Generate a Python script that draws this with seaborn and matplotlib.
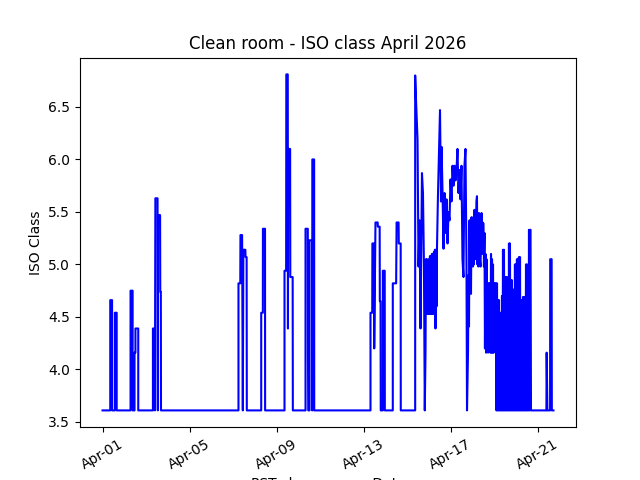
import matplotlib
matplotlib.use("Agg")
import matplotlib.pyplot as plt
import matplotlib.dates as mdates
import pandas as pd
import seaborn as sns

start = "2026-04-01 00:00"

# hours after start, and ISO class readings (3.61 = baseline)
hours = [
    0, 8.5, 8.5, 10.5, 10.5,
    13.6, 13.6, 15.6, 15.6,
    30.9, 30.9, 33.2, 33.2,
    35.3, 35.3, 36.3, 36.3, 39.4, 39.4,
    55.6, 55.6, 57.5, 57.8, 58.3, 60.7, 61.0, 61.2, 63.5, 63.7, 64.3, 64.5,
    150.0, 150.0, 152.0, 152.2, 154.0, 154.3, 154.8, 155.4, 157.6, 157.8, 159.0, 159.2,
    175.1, 175.1, 176.9, 177.0, 179.3, 179.4,
    200.8, 200.8, 202.6, 202.8, 204.4, 204.6, 204.8, 205.0, 207.0, 207.2, 209.8, 210.0,
    224.0, 224.0, 226.5, 226.7, 227.0, 228.4, 228.4, 231.2, 231.4, 231.5, 233.5, 233.6,
    295.7, 295.7, 297.6, 297.8, 299.6, 299.8, 301.2, 303.6, 303.8, 305.8, 306.0, 306.8, 307.0,
    309.3, 309.3, 311.4, 311.5,
    320.3, 320.3, 324.0, 324.5, 326.7, 326.9, 329.0, 329.1,
    345.0, 345.0, 346.0, 347.6, 348.7, 349.8, 350.9, 352.5, 353.6, 354.7, 355.6,
    356.4, 356.9, 357.5, 358.0, 358.6, 359.1, 359.7, 360.2, 360.8, 361.3, 361.9, 362.4,
    363.0, 363.5, 364.1, 364.6, 365.2, 365.7, 366.3, 366.8, 367.4, 367.9, 368.5, 369.1, 370.2,
    372.4, 373.5, 374.1, 375.2, 376.3, 377.4, 378.5, 379.6, 380.7, 381.8, 382.9, 384.0,
    385.1, 386.2, 387.3, 388.4, 389.5, 390.6, 391.7, 392.8, 393.9, 395.0, 396.1, 397.2,
    398.3, 399.4, 400.5, 401.6, 402.2,
    403.3, 403.9, 404.4, 405.0, 405.5, 406.1, 406.6, 407.2, 407.7, 408.3, 408.8, 409.3,
    409.9, 410.4, 411.5, 412.6, 413.2, 413.7, 414.3, 414.8, 415.4, 415.9, 417.1, 417.6,
    418.2, 418.7, 419.3, 420.4, 420.9, 421.5, 422.0, 422.6, 423.2, 423.7, 424.3, 424.8,
    425.4, 425.9, 426.5, 427.0, 427.6,
    428.1, 428.7, 429.2, 429.8, 430.4, 430.9, 431.4, 432.0, 432.6, 433.1, 433.7, 434.2,
    434.7, 435.3, 435.8, 436.4, 436.9, 437.5, 438.1, 438.6, 439.2, 439.7, 440.3, 440.8,
    441.4, 441.9, 442.5, 443.0, 443.6, 444.1, 444.7, 445.2, 445.8, 446.3, 446.9, 447.4,
    448.0, 448.5, 449.1, 449.6, 450.2, 450.7, 451.3, 451.8, 452.4, 452.9, 453.5, 454.0,
    454.6, 455.1, 455.7, 456.2, 456.8, 457.3, 457.9, 458.4, 459.0, 459.5, 460.1, 460.7,
    461.2, 461.8, 462.3, 462.9, 463.4, 464.0, 464.5, 465.1, 465.6, 466.2, 466.7, 467.3,
    467.8, 468.4, 468.9, 469.5, 470.1, 470.6, 471.2, 471.7, 472.3, 472.8,
    489.8, 490.1, 490.9, 493.9, 494.0, 495.6, 495.8, 497.6,
]
iso = [
    3.61, 3.61, 4.66, 4.66, 3.61,
    3.61, 4.54, 4.54, 3.61,
    3.61, 4.75, 4.75, 3.61,
    3.61, 4.16, 4.16, 4.39, 4.39, 3.61,
    3.61, 4.39, 4.39, 3.61, 5.63, 5.63, 3.61, 5.47, 5.47, 4.74, 4.74, 3.61,
    3.61, 4.82, 4.82, 5.28, 5.28, 4.55, 3.61, 5.14, 5.14, 5.07, 5.07, 3.61,
    3.61, 4.54, 4.54, 5.34, 5.34, 3.61,
    3.61, 4.94, 4.94, 6.81, 6.81, 4.39, 5.79, 6.10, 6.10, 4.88, 4.88, 3.61,
    3.61, 5.34, 5.34, 4.16, 3.61, 3.61, 5.23, 5.23, 3.61, 6.00, 6.00, 3.61,
    3.61, 4.54, 4.54, 5.20, 5.20, 4.20, 5.40, 5.40, 5.36, 5.36, 4.65, 4.65, 3.61,
    3.61, 4.94, 4.94, 3.61,
    3.61, 4.82, 4.82, 5.40, 5.40, 5.20, 5.20, 3.61,
    3.61, 6.80, 6.55, 6.19, 4.98, 5.42, 4.39, 5.87, 5.68, 4.98, 3.61,
    4.16, 5.05, 4.53, 5.05, 4.53, 5.02, 4.53, 5.05, 4.53, 5.08, 4.53, 5.08,
    4.53, 5.10, 4.53, 5.10, 4.53, 5.12, 4.60, 5.14, 4.39, 5.14, 4.60, 5.17, 5.68,
    6.47, 5.60, 6.12, 5.68, 5.15, 5.68, 5.30, 5.62, 5.20, 5.50, 5.42, 5.81,
    5.60, 5.94, 5.75, 5.94, 5.80, 5.90, 6.10, 5.68, 5.90, 5.62, 5.94, 5.05,
    4.88, 5.94, 6.10, 5.05, 3.61,
    4.16, 4.90, 4.41, 5.42, 4.76, 5.42, 4.72, 5.45, 5.00, 5.42, 4.98, 5.45,
    5.00, 5.52, 5.05, 5.60, 5.65, 5.00, 5.25, 4.98, 5.49, 5.10, 4.98, 5.20,
    5.49, 5.10, 5.40, 5.39, 4.98, 5.30, 4.20, 5.10, 4.16, 5.05, 4.30, 4.82,
    4.16, 4.82, 4.20, 4.82, 4.82,
    4.16, 5.10, 4.16, 5.05, 4.16, 5.00, 4.16, 4.82, 4.20, 4.82, 4.16, 4.82,
    3.61, 4.82, 3.61, 4.66, 3.61, 4.66, 3.61, 4.54, 3.61, 4.54, 3.61, 4.70,
    3.61, 5.14, 3.61, 5.14, 3.61, 4.88, 3.61, 4.88, 3.61, 4.88, 3.61, 4.60,
    3.61, 5.20, 3.61, 5.20, 3.61, 4.85, 3.61, 4.85, 3.61, 4.76, 3.61, 4.76,
    3.61, 5.00, 3.61, 5.00, 3.61, 5.05, 3.61, 5.05, 3.61, 5.07, 3.61, 5.07,
    3.61, 4.66, 3.61, 4.66, 3.61, 4.69, 3.61, 4.69, 3.61, 4.69, 3.61, 5.00,
    3.61, 5.00, 3.61, 4.80, 3.61, 5.33, 3.61, 5.33, 5.33, 3.61,
    3.61, 4.16, 3.61, 3.61, 5.05, 5.05, 3.61, 3.61,
]

title = "Clean room - ISO class April 2026"
xlabel = "PST clean room - Date"
ylabel = "ISO Class"

df = pd.DataFrame({
    "Date": pd.Timestamp(start) + pd.to_timedelta(hours, unit="h"),
    "ISO": iso,
})

fig, ax = plt.subplots(figsize=(6.4, 4.8), dpi=100)
sns.lineplot(data=df, x="Date", y="ISO", color="blue", linewidth=1.5,
             estimator=None, sort=False, ax=ax)
ax.xaxis.set_major_locator(mdates.DayLocator(bymonthday=range(1, 32, 4)))
ax.xaxis.set_major_formatter(mdates.DateFormatter("%b-%d"))
plt.setp(ax.get_xticklabels(), rotation=30)
ax.set_title(title)
ax.set_xlabel(xlabel)
ax.set_ylabel(ylabel)
fig.savefig("out.png", dpi=100)
